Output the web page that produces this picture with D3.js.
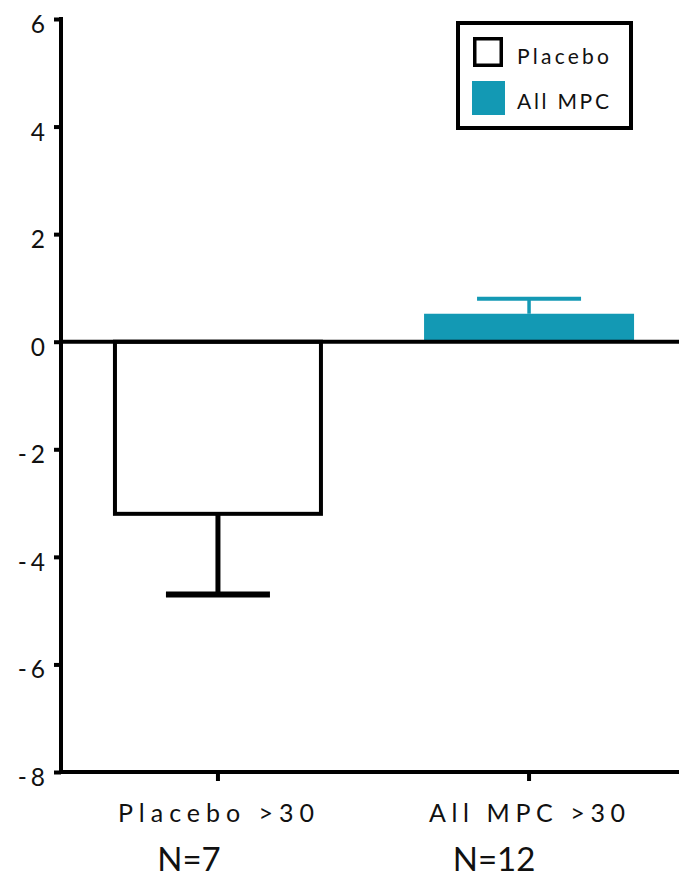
<!DOCTYPE html>
<html>
<head>
<meta charset="utf-8">
<script src="https://cdn.jsdelivr.net/npm/d3@7"></script>
<style>
  html, body { margin: 0; padding: 0; background: #fff; }
  svg { display: block; }
  text { font-family: Lato, "Open Sans", sans-serif; fill: #111; }
</style>
</head>
<body>
<div id="chart"></div>
<script>
// ---- data ----
const categories = ["Placebo >30", "All MPC >30"];
const groupNames = ["Placebo", "All MPC"];
const means = [-3.2, 0.52];
const errors = [1.5, 0.28];
const nLabels = ["N=7", "N=12"];
const yTicks = [6, 4, 2, 0, -2, -4, -6, -8];
const colors = ["#ffffff", "#1399b4"];
const strokeColors = ["#000000", "#1399b4"];

// ---- layout ----
const W = 679, H = 878;
const svg = d3.select("#chart").append("svg").attr("width", W).attr("height", H);

const axisX = 61, plotTop = 19, plotBottom = 772;
const y = d3.scaleLinear().domain([-8, 6]).range([plotBottom, plotTop]);
const x = d3.scaleBand().domain(categories).range([axisX, 686])
  .paddingInner(0.325).paddingOuter(0.167);

// y axis
const yAxis = svg.append("g").attr("transform", `translate(${axisX},0)`)
  .call(d3.axisLeft(y).tickValues(yTicks).tickSize(7).tickPadding(0).tickFormat(d => d));
yAxis.select(".domain").remove();
yAxis.selectAll(".tick line").attr("stroke", "#000").attr("stroke-width", 4);
yAxis.selectAll(".tick text")
  .attr("x", -12).attr("dy", 0).attr("y", 13.5)
  .style("font-size", "24.5px").style("letter-spacing", "4px").attr("fill", "#111");
svg.append("line").attr("x1", axisX).attr("x2", axisX)
  .attr("y1", y(6) - 2).attr("y2", y(-8) + 2)
  .attr("stroke", "#000").attr("stroke-width", 4);

// x axis
const xAxis = svg.append("g").attr("transform", `translate(0,${y(-8)})`)
  .call(d3.axisBottom(x).tickSize(9).tickFormat(""));
xAxis.select(".domain").remove();
xAxis.selectAll(".tick line").attr("stroke", "#000").attr("stroke-width", 4);
svg.append("line").attr("x1", axisX - 2).attr("x2", W)
  .attr("y1", y(-8)).attr("y2", y(-8)).attr("stroke", "#000").attr("stroke-width", 4);

// category labels
const catWidths = [196, 196];
svg.selectAll("text.cat").data(categories).enter().append("text")
  .attr("class", "cat")
  .attr("x", d => x(d) + x.bandwidth() / 2 - 100)
  .attr("y", 822)
  .attr("textLength", (d, i) => catWidths[i])
  .attr("lengthAdjust", "spacing")
  .style("font-size", "25px")
  .text(d => d);

// N labels
const nOffsets = [-29, -35];
svg.selectAll("text.nlab").data(nLabels).enter().append("text")
  .attr("class", "nlab")
  .attr("x", (d, i) => x(categories[i]) + x.bandwidth() / 2 + nOffsets[i])
  .attr("y", 871)
  .attr("text-anchor", "middle")
  .style("font-size", "33px")
  .text(d => d);

// bars
const barData = categories.map((c, i) => ({ c, v: means[i], e: errors[i], i }));
svg.selectAll("rect.bar").data(barData).enter().append("rect")
  .attr("class", "bar")
  .attr("x", d => x(d.c) + (d.i === 0 ? 2 : 0))
  .attr("width", d => x.bandwidth() - (d.i === 0 ? 4 : 0))
  .attr("y", d => Math.min(y(d.v), y(0)))
  .attr("height", d => Math.abs(y(d.v) - y(0)))
  .attr("fill", d => colors[d.i])
  .attr("stroke", d => d.i === 0 ? "#000" : "none")
  .attr("stroke-width", 4);

// error bars
const capHalf = 52;
const eg = svg.selectAll("g.err").data(barData).enter().append("g").attr("class", "err");
eg.append("line")
  .attr("x1", d => x(d.c) + x.bandwidth() / 2)
  .attr("x2", d => x(d.c) + x.bandwidth() / 2)
  .attr("y1", d => y(d.v))
  .attr("y2", d => y(d.v + Math.sign(d.v) * d.e))
  .attr("stroke", d => strokeColors[d.i])
  .attr("stroke-width", d => d.i === 0 ? 5 : 3.5);
eg.append("line")
  .attr("x1", d => x(d.c) + x.bandwidth() / 2 - capHalf)
  .attr("x2", d => x(d.c) + x.bandwidth() / 2 + capHalf)
  .attr("y1", d => y(d.v + Math.sign(d.v) * d.e))
  .attr("y2", d => y(d.v + Math.sign(d.v) * d.e))
  .attr("stroke", d => strokeColors[d.i])
  .attr("stroke-width", d => d.i === 0 ? 6 : 4);

// zero line
svg.append("line").attr("x1", axisX).attr("x2", W)
  .attr("y1", y(0)).attr("y2", y(0)).attr("stroke", "#000").attr("stroke-width", 4);

// legend
const lg = svg.append("g");
lg.append("rect").attr("x", 458).attr("y", 23).attr("width", 173).attr("height", 105)
  .attr("fill", "#fff").attr("stroke", "#000").attr("stroke-width", 4);
const legendRows = lg.selectAll("g.row").data(groupNames).enter().append("g")
  .attr("class", "row")
  .attr("transform", (d, i) => `translate(0,${i * 45.5})`);
legendRows.append("rect")
  .attr("x", (d, i) => i === 0 ? 474.75 : 472)
  .attr("y", (d, i) => i === 0 ? 38.75 : 35.5)
  .attr("width", (d, i) => i === 0 ? 26.5 : 33)
  .attr("height", (d, i) => i === 0 ? 26.5 : 34)
  .attr("fill", (d, i) => colors[i])
  .attr("stroke", (d, i) => i === 0 ? "#000" : "none")
  .attr("stroke-width", 3.5);
legendRows.append("text")
  .attr("x", 517).attr("y", 63.5)
  .attr("textLength", 92).attr("lengthAdjust", "spacing")
  .style("font-size", "21px")
  .text(d => d);
</script>
</body>
</html>
